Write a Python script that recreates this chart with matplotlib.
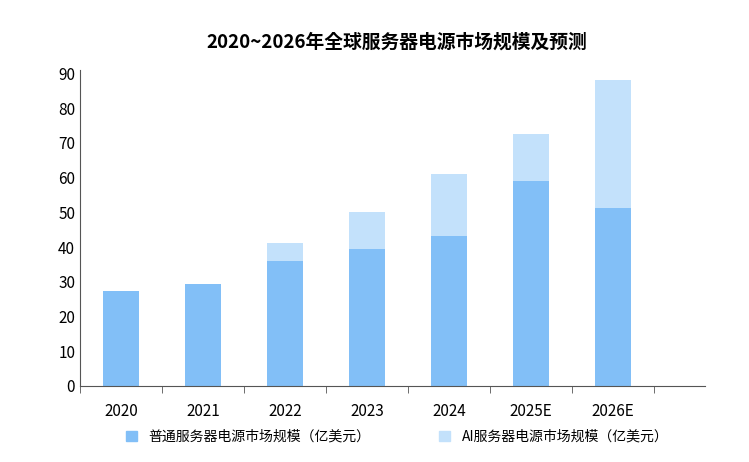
import matplotlib
matplotlib.use("Agg")
import matplotlib.pyplot as plt
from matplotlib.patches import Patch
from matplotlib import font_manager

names = {f.name for f in font_manager.fontManager.ttflist}
cands = [n for n in ["Noto Sans CJK SC", "Noto Sans CJK JP", "Noto Sans CJK TC", "Noto Sans CJK KR"] if n in names]
if not cands:
    cands = [f.name for f in font_manager.fontManager.ttflist if "CJK" in f.name][:1]
plt.rcParams['font.family'] = cands + ['DejaVu Sans']

years = ["2020", "2021", "2022", "2023", "2024", "2025E", "2026E"]
normal = [27.3, 29.3, 36.0, 39.5, 43.3, 59.0, 51.4]
total = [27.3, 29.3, 41.2, 50.0, 61.0, 72.6, 88.0]
ai = [t - n for t, n in zip(total, normal)]

c1 = "#82bff7"
c2 = "#c3e1fb"

fig = plt.figure(figsize=(7.49, 4.62), dpi=100)
ax = fig.add_axes([80/749, 1-386/462, 625/749, 316/462])
x = list(range(len(years)))
ax.bar(x, normal, width=0.44, color=c1)
ax.bar(x, ai, bottom=normal, width=0.44, color=c2)
ax.set_xlim(-0.5, 7.12)
ax.set_ylim(0, 91)
ax.set_yticks(range(0, 91, 10))
ax.set_xticks(x)
ax.set_xticklabels(years)
ax.set_xticks([i + 0.5 for i in range(-1, 7)], minor=True)
ax.tick_params(axis='x', which='major', length=0, labelsize=11, pad=12)
ax.tick_params(axis='x', which='minor', length=5, color='#555555')
ax.tick_params(axis='y', length=0, labelsize=11)
for s in ['top', 'right']:
    ax.spines[s].set_visible(False)
for s in ['left', 'bottom']:
    ax.spines[s].set_color('#555555')
fig.text(0.53, 1-42/462, "2020~2026年全球服务器电源市场规模及预测", ha='center', va='center',
         fontsize=13.5, fontweight='bold')
fig.legend(handles=[Patch(color=c1, label="普通服务器电源市场规模（亿美元）"),
                    Patch(color=c2, label="AI服务器电源市场规模（亿美元）")],
           loc='center', bbox_to_anchor=(0.53, 1-437/462), ncol=2, frameon=False,
           fontsize=10, handlelength=0.8, handleheight=0.8, columnspacing=5)
fig.savefig("out.png", dpi=100)
